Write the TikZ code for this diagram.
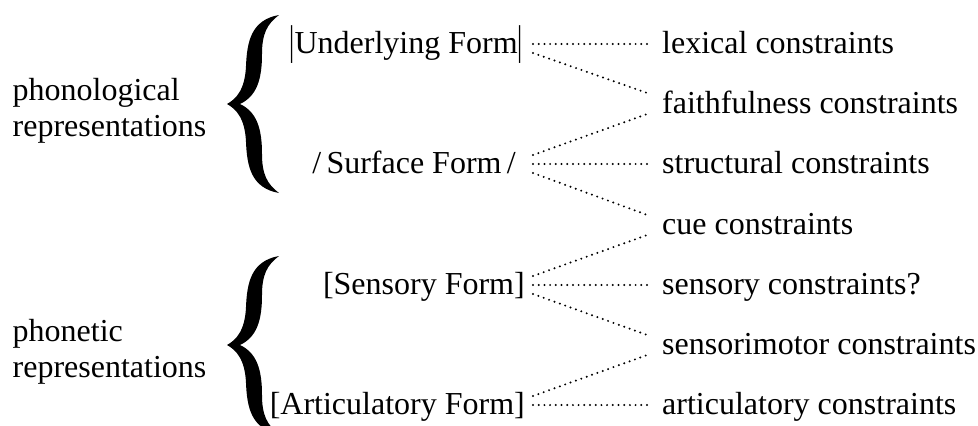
\documentclass[tikz,border=0pt]{standalone}
\usepackage{graphicx}
\usepackage{fontspec}
\setmainfont{Liberation Serif}
\newcommand{\tallbar}{\raisebox{-1pt}{\scalebox{0.8}[1.3]{|}}}
\begin{document}
\begin{tikzpicture}[x=1pt,y=-1pt,
  lbl/.style={font=\fontsize{32pt}{36pt}\selectfont, inner ysep=0pt, text height=23pt, text depth=5pt},
  formnode/.style={lbl, anchor=east},
  connode/.style={lbl, anchor=west, inner xsep=12pt},
  grpnode/.style={font=\fontsize{32pt}{36pt}\selectfont, anchor=base west, inner sep=0pt},
  dotline/.style={line width=2.2pt, line cap=round, dash pattern=on 0pt off 5.7pt},
  bracepic/.pic={
    \fill[black] (0,0) .. controls (9,-5) and (18,-14) .. (19,-38)
      .. controls (20,-62) and (24,-84) .. (52,-89)
      .. controls (40,-80) and (35,-70) .. (35,-50)
      .. controls (35,-25) and (30,-8) .. (13,0)
      .. controls (30,8) and (35,25) .. (35,50)
      .. controls (35,70) and (40,80) .. (52,89)
      .. controls (24,84) and (20,62) .. (19,38)
      .. controls (18,14) and (9,5) .. (0,0) -- cycle;
  }]
\fill[white] (0,0) rectangle (978,426);
\useasboundingbox (0,0) rectangle (978,426);

% group labels
\node[grpnode] (phon1) at (12.5,100) {phonological};
\node[grpnode] (phon2) at (12.5,136) {representations};
\node[grpnode] (phot1) at (12.5,341) {phonetic};
\node[grpnode] (phot2) at (12.5,377) {representations};

% braces
\pic at (227,104) {bracepic};
\pic at (227,345) {bracepic};

% forms
\node[formnode, inner xsep=10pt] (uf) at (533,44) {\tallbar Underlying Form\tallbar};
\node[formnode, inner xsep=17pt] (sf) at (533,164) {/\,Surface Form\,/};
\node[formnode, inner xsep=8pt] (sens) at (533,285) {[Sensory Form]};
\node[formnode, inner xsep=8pt] (af) at (533,405) {[Articulatory Form]};

% constraints
\node[connode] (lex) at (650,44) {lexical constraints};
\node[connode] (faith) at (650,104) {faithfulness constraints};
\node[connode] (struct) at (650,164) {structural constraints};
\node[connode] (cue) at (650,225) {cue constraints};
\node[connode] (senscon) at (650,285) {sensory constraints?};
\node[connode] (smc) at (650,345) {sensorimotor constraints};
\node[connode] (artc) at (650,405) {articulatory constraints};

% connectors
\draw[dotline] (uf.east) -- (lex.west);
\draw[dotline] ([yshift=-9pt]uf.east) -- ([yshift=10pt]faith.west);
\draw[dotline] ([yshift=9pt]sf.east) -- ([yshift=-9pt]faith.west);
\draw[dotline] (sf.east) -- (struct.west);
\draw[dotline] ([yshift=-9pt]sf.east) -- ([yshift=9pt]cue.west);
\draw[dotline] ([yshift=9pt]sens.east) -- ([yshift=-9pt]cue.west);
\draw[dotline] (sens.east) -- (senscon.west);
\draw[dotline] ([yshift=-9pt]sens.east) -- ([yshift=9pt]smc.west);
\draw[dotline] ([yshift=9pt]af.east) -- ([yshift=-9pt]smc.west);
\draw[dotline] (af.east) -- (artc.west);
\end{tikzpicture}
\end{document}
